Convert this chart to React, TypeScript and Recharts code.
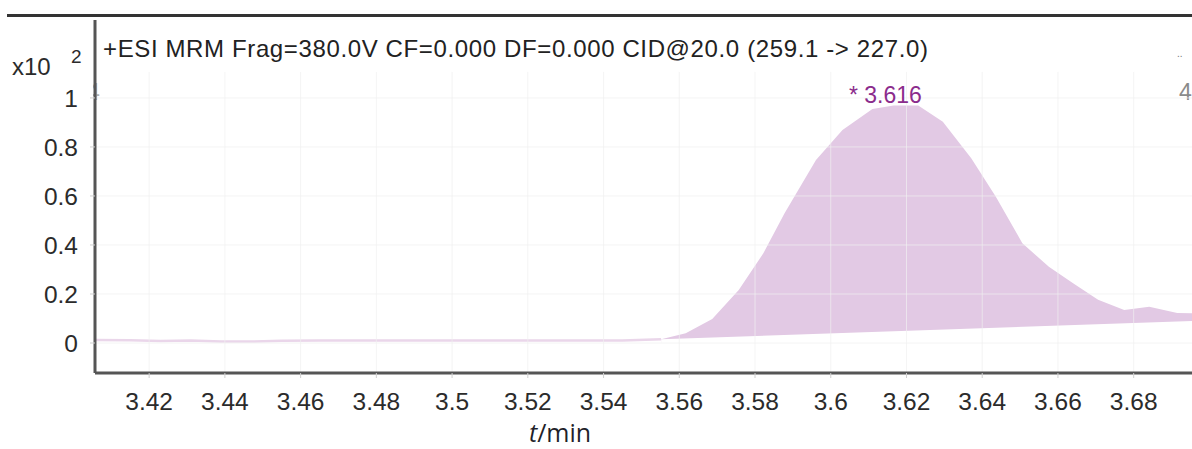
import { ComposedChart, Area, Line, XAxis, YAxis, ReferenceLine, ReferenceDot, Label } from 'recharts';

// retention time axis (min) and abundance axis (x10^2 counts)
const X_DOMAIN = [3.4057, 3.6954];
const Y_DOMAIN = [-0.1224, 1.318];
const X_TICKS = [3.42, 3.44, 3.46, 3.48, 3.5, 3.52, 3.54, 3.56, 3.58, 3.6, 3.62, 3.64, 3.66, 3.68];
const Y_TICKS = [0, 0.2, 0.4, 0.6, 0.8, 1];
const GRID_TOP = 1.106;

// flat trace before the peak
const TRACE_RT = [3.4057, 3.415, 3.423, 3.431, 3.439, 3.447, 3.455, 3.465, 3.475, 3.485, 3.495, 3.505, 3.515, 3.525, 3.535, 3.545, 3.5552];
const TRACE_ABUND = [0.012, 0.011, 0.008, 0.01, 0.006, 0.006, 0.009, 0.01, 0.01, 0.01, 0.01, 0.01, 0.01, 0.01, 0.01, 0.01, 0.015];

// integrated peak
const PEAK_RT = [3.5552, 3.5617, 3.5687, 3.5757, 3.5822, 3.5878, 3.5961, 3.6031, 3.611, 3.6166, 3.6231, 3.6296, 3.6371, 3.6436, 3.6506, 3.6576, 3.664, 3.6706, 3.6775, 3.6841, 3.6915, 3.6954];
const PEAK_ABUND = [0.015, 0.04, 0.098, 0.216, 0.366, 0.529, 0.747, 0.869, 0.955, 0.969, 0.969, 0.903, 0.754, 0.597, 0.407, 0.311, 0.244, 0.176, 0.135, 0.148, 0.122, 0.121];

// integration baseline (drawn as white mask under the peak)
const BASE_RT = [3.5552, 3.6954];
const BASE_ABUND = [0.015, 0.09];

const APEX_RT = 3.616;
const APEX_ABUND = 0.969;
const APEX_LABEL = '* 3.616';
const TITLE = '+ESI MRM Frag=380.0V CF=0.000 DF=0.000 CID@20.0 (259.1 -> 227.0)';

const traceData = TRACE_RT.map((t, i) => ({ t, v: TRACE_ABUND[i] }));
const peakData = PEAK_RT.map((t, i) => ({ t, v: PEAK_ABUND[i] }));
const baseData = BASE_RT.map((t, i) => ({ t, v: BASE_ABUND[i] }));

const FONT = '"Liberation Sans", Arial, sans-serif';
const GRID = '#efefef';
const tickStyle = { fontFamily: FONT, fontSize: 24.5, fill: '#2b2b2b' };

const fmt = (v: number) => String(Number(v.toFixed(2)));

function ApexLabel(props: any) {
  const { x, y } = props.viewBox;
  return (
    <text x={x - 6} y={y - 3} textAnchor="middle" fontFamily={FONT} fontSize={23} fill="#8b2c8c">
      {APEX_LABEL}
    </text>
  );
}

function AxisTitle(props: any) {
  const { x, y } = props.viewBox;
  return (
    <text x={x + 465} y={y + 69} textAnchor="middle" fontFamily='"Open Sans", sans-serif' fontSize={25} fill="#1f1f2a">
      <tspan fontStyle="italic">t</tspan>/min
    </text>
  );
}

export default function App() {
  return (
    <div style={{ position: 'absolute', left: 0, top: 0, width: 1192, height: 449, background: '#fff', overflow: 'hidden' }}>
      <div style={{ position: 'absolute', left: 7, right: 0, top: 14, height: 3, background: '#333' }} />
      <svg width={1192} height={449} style={{ position: 'absolute', left: 0, top: 0 }}>
        <text x={12} y={75} fontFamily={FONT} fontSize={24} fill="#2b2b2b">x10</text>
        <text x={71} y={63} fontFamily={FONT} fontSize={19} fill="#2b2b2b">2</text>
        <text x={103} y={56.5} fontFamily={FONT} fontSize={24} fill="#222" textLength={825} lengthAdjust="spacing">
          {TITLE}
        </text>
        <text x={1177} y={57} fontFamily={FONT} fontSize={10} fill="#777">..</text>
        <text x={1179} y={100} fontFamily={FONT} fontSize={23} fill="#8a8a8a">4</text>
        <svg x={93} y={80} width={8} height={25}>
          <text x={-6} y={20} fontFamily={FONT} fontSize={23} fill="#b0b0b0">4</text>
        </svg>
      </svg>
      <div style={{ position: 'absolute', left: 0, top: 0 }}>
        <ComposedChart width={1192} height={449} margin={{ top: 20, right: 0, bottom: 36, left: 0 }}>
          <XAxis
            type="number" dataKey="t" domain={X_DOMAIN} allowDataOverflow ticks={X_TICKS}
            tickFormatter={fmt} tick={tickStyle} tickSize={5} tickMargin={15} height={40}
            axisLine={{ stroke: '#555', strokeWidth: 3 }} tickLine={{ stroke: '#d0d0d0' }}
          >
            <Label content={<AxisTitle />} />
          </XAxis>
          <YAxis
            type="number" domain={Y_DOMAIN} allowDataOverflow ticks={Y_TICKS}
            tickFormatter={fmt} tick={tickStyle} tickSize={5} tickMargin={12} width={95}
            axisLine={{ stroke: '#555', strokeWidth: 3 }} tickLine={{ stroke: '#d0d0d0' }}
          />
          <Line
            data={traceData} dataKey="v" type="linear" stroke="#ead6ea" strokeWidth={2.5}
            dot={false} activeDot={false} isAnimationActive={false}
          />
          <Area
            data={peakData} dataKey="v" type="linear" stroke="none" fill="#e2c9e4" fillOpacity={1}
            dot={false} activeDot={false} isAnimationActive={false}
          />
          <Area
            data={baseData} dataKey="v" type="linear" stroke="none" fill="#ffffff" fillOpacity={1}
            dot={false} activeDot={false} isAnimationActive={false}
          />
          {Y_TICKS.map((v) => (
            <ReferenceLine key={'h' + v} y={v} stroke={GRID} strokeOpacity={0.7} />
          ))}
          {X_TICKS.map((t) => (
            <ReferenceLine
              key={'v' + t} stroke={GRID} strokeOpacity={0.7}
              segment={[{ x: t, y: GRID_TOP }, { x: t, y: Y_DOMAIN[0] }]}
            />
          ))}
          <ReferenceDot x={APEX_RT} y={APEX_ABUND} r={0} fill="none" stroke="none" label={<ApexLabel />} />
        </ComposedChart>
      </div>
    </div>
  );
}
